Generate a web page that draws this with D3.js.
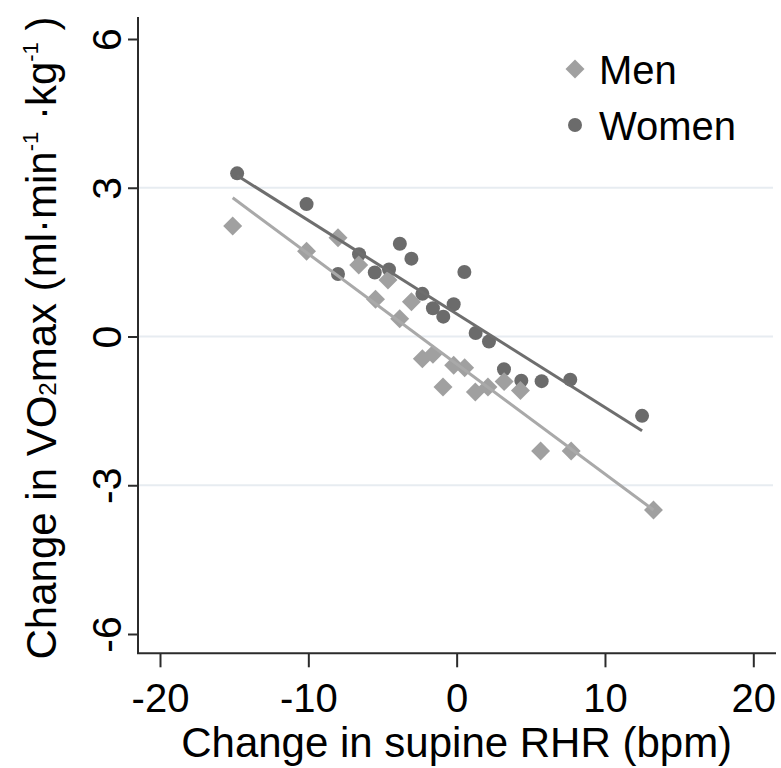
<!DOCTYPE html>
<html>
<head>
<meta charset="utf-8">
<script src="https://cdn.jsdelivr.net/npm/d3@7"></script>
<style>
  html, body { margin: 0; padding: 0; background: #fff; }
  svg { display: block; font-family: "Liberation Sans", Arial, sans-serif; }
</style>
</head>
<body>
<svg id="chart" width="781" height="768"></svg>
<script>
// ---- data ----
const menX   = [-15.1, -10.12, -8.0, -6.6, -4.63, -5.47, -3.84, -3.05, -2.31, -1.6, -0.2, 0.54, -0.92, 1.26, 2.11, 3.2, 4.3, 5.66, 7.72, 13.27];
const menY   = [2.23, 1.72, 1.99, 1.44, 1.14, 0.75, 0.36, 0.70, -0.45, -0.36, -0.58, -0.63, -1.02, -1.12, -1.02, -0.91, -1.09, -2.31, -2.31, -3.50];
const womenX = [-14.8, -10.12, -8.0, -6.58, -5.52, -4.56, -3.83, -3.05, -2.31, -1.6, -0.2, -0.9, 0.52, 1.28, 2.18, 3.19, 4.36, 5.73, 7.66, 12.5];
const womenY = [3.29, 2.67, 1.26, 1.66, 1.29, 1.35, 1.87, 1.57, 0.86, 0.57, 0.65, 0.40, 1.30, 0.07, -0.10, -0.66, -0.89, -0.90, -0.87, -1.60];
// fitted lines (intercept, slope) as drawn in the picture
const seriesNames = ["Men", "Women"];
const fitIntercept = [-0.553, 0.457];
const fitSlope = [-0.222, -0.1885];
const xTicks = [-20, -10, 0, 10, 20];
const yTicks = [-6, -3, 0, 3, 6];
const yGrid = [-3, 0, 3];

const svg = d3.select("#chart");
const x = d3.scaleLinear().domain([-20, 20]).range([160, 753.3]);
const y = d3.scaleLinear().domain([-6, 6]).range([634, 39]);

const axisX0 = 138, axisY0 = 653.3, plotRight = 775, plotTop = 17;
const menColor = "#a0a0a0", menLine = "#a9a9a9";
const womenColor = "#6b6b6b", womenLine = "#6e6e6e";
const axisColor = "#2b2b2b";
const fmt = d => String(d); // plain hyphen-minus as in the reference

// gridlines
svg.append("g").selectAll("line").data(yGrid).join("line")
  .attr("x1", axisX0).attr("x2", plotRight - 2)
  .attr("y1", d => y(d)).attr("y2", d => y(d))
  .attr("stroke", "#e7ecf1").attr("stroke-width", 2);

// y axis
const gy = svg.append("g").attr("transform", `translate(${axisX0},0)`)
  .call(d3.axisLeft(y).tickValues(yTicks).tickSize(10).tickPadding(0).tickFormat(fmt));
gy.select(".domain").remove();
gy.selectAll(".tick line").attr("stroke", axisColor).attr("stroke-width", 2);
gy.selectAll(".tick text")
  .attr("font-size", 41).attr("fill", "#000")
  .attr("x", null).attr("dy", null)
  .attr("text-anchor", "middle")
  .attr("transform", "translate(-17,0) rotate(-90)");
svg.append("line").attr("x1", axisX0).attr("x2", axisX0).attr("y1", plotTop).attr("y2", axisY0)
  .attr("stroke", axisColor).attr("stroke-width", 2);

// x axis
const gx = svg.append("g").attr("transform", `translate(0,${axisY0})`)
  .call(d3.axisBottom(x).tickValues(xTicks).tickSize(14).tickPadding(0).tickFormat(fmt));
gx.select(".domain").remove();
gx.selectAll(".tick line").attr("stroke", axisColor).attr("stroke-width", 2);
gx.selectAll(".tick text").attr("font-size", 40).attr("fill", "#000")
  .attr("y", 59).attr("dy", null);
svg.append("line").attr("x1", axisX0 - 1).attr("x2", plotRight + 1).attr("y1", axisY0).attr("y2", axisY0)
  .attr("stroke", axisColor).attr("stroke-width", 2);

// axis titles
svg.append("text").attr("x", x(0)).attr("y", 757).attr("text-anchor", "middle")
  .attr("font-size", 42).attr("fill", "#000").text("Change in supine RHR (bpm)");

const yt = svg.append("text").attr("text-anchor", "middle")
  .attr("transform", "translate(56,338) rotate(-90)")
  .attr("font-size", 42).attr("fill", "#000");
yt.append("tspan").text("Change in VO");
yt.append("tspan").attr("font-size", 24).text("2");
yt.append("tspan").text("max (ml·min");
yt.append("tspan").attr("font-size", 22).attr("dy", -18).text("-1");
yt.append("tspan").attr("dy", 18).text(" ·kg");
yt.append("tspan").attr("font-size", 22).attr("dy", -18).text("-1");
yt.append("tspan").attr("dy", 18).text(" )");

// scatter points
const women = womenX.map((v, i) => ({x: v, y: womenY[i]}));
const men = menX.map((v, i) => ({x: v, y: menY[i]}));
const diamond = d3.symbol().type(d3.symbolSquare).size(180);

svg.append("g").selectAll("circle").data(women).join("circle")
  .attr("cx", d => x(d.x)).attr("cy", d => y(d.y)).attr("r", 7)
  .attr("fill", womenColor);
svg.append("g").selectAll("path").data(men).join("path")
  .attr("d", diamond)
  .attr("transform", d => `translate(${x(d.x)},${y(d.y)}) rotate(45)`)
  .attr("fill", menColor);

// fit lines over each group's x range
const ranges = [d3.extent(menX), d3.extent(womenX)];
const lineColors = [menLine, womenLine];
seriesNames.forEach((name, i) => {
  const pts = ranges[i].map(v => [x(v), y(fitIntercept[i] + fitSlope[i] * v)]);
  svg.append("path").attr("d", d3.line()(pts))
    .attr("stroke", lineColors[i]).attr("stroke-width", 3).attr("fill", "none");
});

// legend
const lg = svg.append("g");
lg.append("path").attr("d", diamond).attr("transform", "translate(575,69) rotate(45)").attr("fill", menColor);
lg.append("circle").attr("cx", 575).attr("cy", 125).attr("r", 7).attr("fill", womenColor);
lg.append("text").attr("x", 599).attr("y", 84).attr("font-size", 40).attr("fill", "#000").text(seriesNames[0]);
lg.append("text").attr("x", 599).attr("y", 140).attr("font-size", 40).attr("fill", "#000").text(seriesNames[1]);
</script>
</body>
</html>
